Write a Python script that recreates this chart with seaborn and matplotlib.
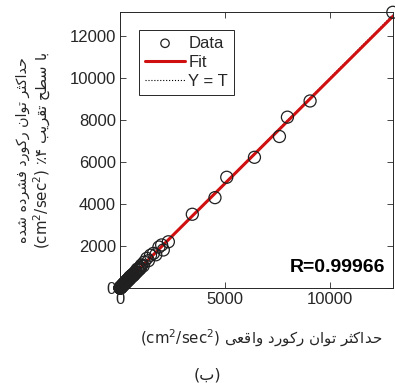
import numpy as np
import matplotlib
matplotlib.use("Agg")
import matplotlib.pyplot as plt
import seaborn as sns

# values
x_true = [12990, 9050, 7970, 7590, 6400, 5080, 4520, 3440, 2300, 2060, 1980,
          1850, 1700, 1590, 1450, 1350, 1270, 1150, 1100, 1030,
          1000, 970, 950, 920, 880, 850, 820, 790, 760, 730, 700, 680, 650,
          620, 600, 580, 560, 540, 520, 500, 480, 460, 450, 430, 420, 400,
          390, 370, 360, 340, 330, 310, 300, 290, 280, 260, 250, 240, 230,
          220, 210, 200, 190, 180, 170, 160, 150, 140, 135, 125, 120, 110,
          105, 95, 90, 85, 80, 75, 70, 65, 60, 55, 50, 45, 40, 35, 32, 28,
          25, 22, 18, 15, 12, 10, 8, 6, 5, 4, 3, 2, 1]
y_comp = [13120, 8900, 8130, 7210, 6220, 5270, 4300, 3510, 2200, 1810, 2050,
          1950, 1580, 1650, 1560, 1300, 1410, 1230, 1050, 1100,
          1060, 940, 980, 900, 850, 880, 900, 760, 740, 780, 720, 650, 610,
          660, 640, 560, 540, 590, 560, 480, 470, 520, 500, 410, 400, 440,
          420, 350, 350, 380, 360, 290, 290, 320, 310, 240, 240, 270, 260,
          200, 200, 230, 210, 170, 160, 190, 170, 130, 130, 150, 125, 100,
          100, 110, 95, 80, 75, 85, 72, 60, 55, 65, 52, 40, 38, 45, 35, 25,
          22, 28, 20, 14, 10, 13, 9, 5, 4, 6, 3, 2, 1]
x_line = [0, 13000]
r_value = "R=0.99966"
xticks = [0, 5000, 10000]
yticks = [0, 2000, 4000, 6000, 8000, 10000, 12000]

# simple Persian shaping (matplotlib has no shaping / bidi)
FORMS = {
    'ا': ('\uFE8D', '\uFE8E', None, None),
    'ب': ('\uFE8F', '\uFE90', '\uFE91', '\uFE92'),
    'ت': ('\uFE95', '\uFE96', '\uFE97', '\uFE98'),
    'ث': ('\uFE99', '\uFE9A', '\uFE9B', '\uFE9C'),
    'ح': ('\uFEA1', '\uFEA2', '\uFEA3', '\uFEA4'),
    'د': ('\uFEA9', '\uFEAA', None, None),
    'ر': ('\uFEAD', '\uFEAE', None, None),
    'س': ('\uFEB1', '\uFEB2', '\uFEB3', '\uFEB4'),
    'ش': ('\uFEB5', '\uFEB6', '\uFEB7', '\uFEB8'),
    'ط': ('\uFEC1', '\uFEC2', '\uFEC3', '\uFEC4'),
    'ع': ('\uFEC9', '\uFECA', '\uFECB', '\uFECC'),
    'ف': ('\uFED1', '\uFED2', '\uFED3', '\uFED4'),
    'ق': ('\uFED5', '\uFED6', '\uFED7', '\uFED8'),
    'ن': ('\uFEE5', '\uFEE6', '\uFEE7', '\uFEE8'),
    'ه': ('\uFEE9', '\uFEEA', '\uFEEB', '\uFEEC'),
    'و': ('\uFEED', '\uFEEE', None, None),
    'ک': ('\uFB8E', '\uFB8F', '\uFB90', '\uFB91'),
    'ی': ('\uFBFC', '\uFBFD', '\uFBFE', '\uFBFF'),
}


def fa(text):
    out = []
    for i, ch in enumerate(text):
        if ch not in FORMS:
            out.append(ch)
            continue
        prev = text[i - 1] if i > 0 else ''
        nxt = text[i + 1] if i < len(text) - 1 else ''
        jp = prev in FORMS and FORMS[prev][2] is not None
        jn = FORMS[ch][2] is not None and nxt in FORMS
        iso, fin, ini, med = FORMS[ch]
        out.append(med if (jp and jn) else fin if jp else ini if jn else iso)
    return ''.join(reversed(out))


unit = "(cm$^2$/sec$^2$)"
ylab1 = fa("حداکثر توان رکورد فشرده شده")
ylab2 = unit + " \u066A\u06F4 " + fa("با سطح تقریب")
xlab = unit + " " + fa("حداکثر توان رکورد واقعی")
caption = "(" + FORMS['ب'][0] + ")"

sns.set_style("ticks")
plt.rcParams['font.family'] = ['Liberation Sans', 'DejaVu Sans']
plt.rcParams['mathtext.fontset'] = 'dejavusans'

fig = plt.figure(figsize=(3.95, 3.83), dpi=100)
ax = fig.add_axes([0.304, 0.248, 0.691, 0.721])

slope, icpt = np.polyfit(x_true, y_comp, 1)
y_fit = [slope * v + icpt for v in x_line]

sns.lineplot(x=x_line, y=x_line, ax=ax, color='black', linestyle=':',
             linewidth=0.8, label='Y = T', zorder=2)
sns.lineplot(x=x_line, y=y_fit, ax=ax, color='#d01010', linewidth=2.2,
             label='Fit', zorder=3)
sns.scatterplot(x=x_true, y=y_comp, ax=ax, marker='o', s=75, fc='none',
                ec='#202020', linewidth=0.9, label='Data', zorder=4,
                clip_on=False)

ax.set_xlim(0, 13000)
ax.set_ylim(0, 13140)
ax.set_xticks(xticks)
ax.set_yticks(yticks)
ax.tick_params(direction='in', length=4, width=0.6, top=True, right=True,
               labelsize=12, colors='#262626', pad=3)
for sp in ax.spines.values():
    sp.set_visible(True)
    sp.set_color('#262626')
    sp.set_linewidth(0.7)

handles, labels = ax.get_legend_handles_labels()
order = [labels.index(k) for k in ['Data', 'Fit', 'Y = T']]
leg = ax.legend([handles[i] for i in order], [labels[i] for i in order],
                loc='upper left', bbox_to_anchor=(0.07, 0.935),
                borderaxespad=0, fontsize=12, fancybox=False, framealpha=1,
                edgecolor='#262626', handlelength=2.4, handletextpad=0.2,
                labelspacing=0.25, borderpad=0.35, markerscale=0.7)
leg.get_frame().set_linewidth(0.7)

ax.text(0.97, 0.076, r_value, transform=ax.transAxes, ha='right',
        va='center', fontsize=14, fontweight='bold', color='black')

fig.text(0.058, 0.608, ylab1, rotation=90, ha='center', va='center',
         fontsize=10.3, family='DejaVu Sans')
fig.text(0.108, 0.608, ylab2, rotation=90, ha='center', va='center',
         fontsize=10.8, family='DejaVu Sans')
fig.text(0.661, 0.1175, xlab, ha='center', va='center', fontsize=10.8,
         family='DejaVu Sans')
fig.text(0.524, 0.021, caption, ha='center', va='center', fontsize=11.5,
         family='DejaVu Sans')

fig.savefig('out.png', dpi=100)
